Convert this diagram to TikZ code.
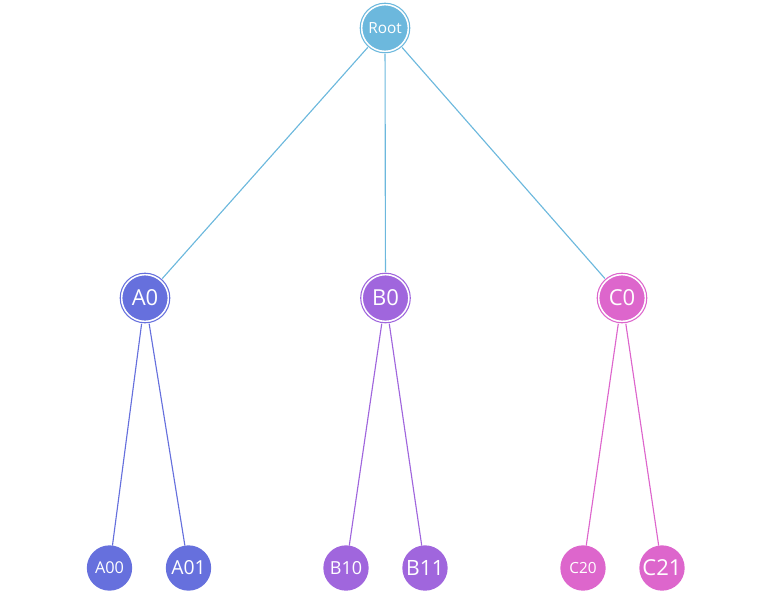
\documentclass[tikz,border=0pt]{standalone}
\usepackage{fontspec}
\setmainfont{Open Sans}
\definecolor{cR}{RGB}{108,184,221}
\definecolor{cA}{RGB}{102,112,221}
\definecolor{cB}{RGB}{160,102,221}
\definecolor{cC}{RGB}{221,102,204}
\newcommand{\fs}[1]{\fontsize{#1pt}{#1pt}\selectfont}
\begin{document}
\begin{tikzpicture}[x=0.75pt,y=-0.75pt,
  bignode/.style={circle, fill=#1, draw=white, line width=1.1pt, minimum size=35pt, inner sep=0pt, outer sep=2pt, text=white},
  ring/.style={draw=#1, line width=0.8pt},
  leaf/.style={circle, fill=#1, minimum size=34pt, inner sep=0pt, outer sep=0pt, text=white},
  conn/.style={draw=#1, line width=0.85pt}]
\useasboundingbox (0,0) rectangle (767,611);
\node[bignode=cR] (R) at (385,28) {\fs{11.5}Root};
\node[bignode=cA] (A0) at (145,298) {\fs{16.5}A0};
\node[bignode=cB] (B0) at (385.5,298) {\fs{16.5}B0};
\node[bignode=cC] (C0) at (622,298) {\fs{16.5}C0};
\foreach \n/\c in {R/cR,A0/cA,B0/cB,C0/cC}{
  \draw[ring=\c] (\n.center) circle[radius=18.6pt];
}
\node[leaf=cA] (A00) at (109.5,568) {\fs{12.2}A00};
\node[leaf=cA] (A01) at (188.5,568) {\fs{14.5}A01};
\node[leaf=cB] (B10) at (346,568) {\fs{13.5}B10};
\node[leaf=cB] (B11) at (425,568) {\fs{15.8}B11};
\node[leaf=cC] (C20) at (583,568) {\fs{11.5}C20};
\node[leaf=cC] (C21) at (662,568) {\fs{16.5}C21};
\draw[conn=cR] (R) -- (A0);
\draw[conn=cR] (R) -- (B0);
\draw[conn=cR] (R) -- (C0);
\draw[conn=cA] (A0) -- (A00);
\draw[conn=cA] (A0) -- (A01);
\draw[conn=cB] (B0) -- (B10);
\draw[conn=cB] (B0) -- (B11);
\draw[conn=cC] (C0) -- (C20);
\draw[conn=cC] (C0) -- (C21);
\end{tikzpicture}
\end{document}
